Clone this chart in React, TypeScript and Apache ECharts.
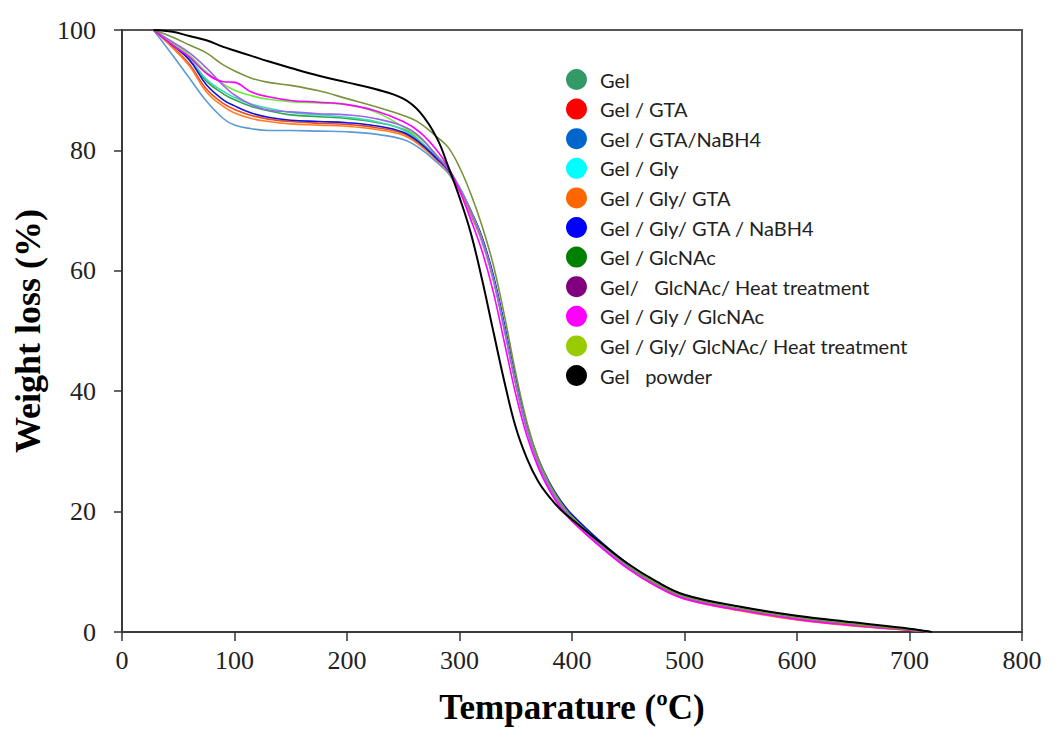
import React, { useEffect, useRef } from "react";
import * as echarts from "echarts";

const temps = [28, 45, 60, 75, 90, 100, 115, 130, 150, 175, 200, 225, 250, 265, 280, 290, 300, 310, 320, 330, 340, 350, 360, 370, 380, 390, 400, 425, 450, 475, 500, 550, 600, 650, 700, 720];

const seriesNames = [
  "Gel",
  "Gel / GTA",
  "Gel / GTA/NaBH4",
  "Gel / Gly",
  "Gel / Gly/ GTA",
  "Gel / Gly/ GTA / NaBH4",
  "Gel / GlcNAc",
  "Gel/   GlcNAc/ Heat treatment",
  "Gel / Gly / GlcNAc",
  "Gel / Gly/ GlcNAc/ Heat treatment",
  "Gel   powder",
];

const legendColors = ["#339966", "#FF0000", "#0066CC", "#00FFFF", "#FF6600", "#0000FF", "#008000", "#800080", "#FF00FF", "#99CC00", "#000000"];
const lineColors = ["#2FA84F", "#F04A1A", "#5B9BD5", "#3DDBB0", "#FF7F27", "#1010E0", "#66EE33", "#9966EE", "#FF00FF", "#77933C", "#000000"];

const gel = [100, 97.5, 95, 91.5, 89.4, 88.4, 87.3, 86.6, 85.9, 85.6, 85.3, 84.7, 83.5, 81.5, 78.7, 76.8, 73.8, 70, 65.5, 59, 50.6, 41.6, 34, 28.5, 24.5, 21.5, 19.2, 14.9, 11.2, 8.2, 6.0, 4.0, 2.5, 1.4, 0.45, 0];
const gelGTA = [100, 97.2, 94.3, 90.2, 87.8, 86.8, 85.8, 85.2, 84.8, 84.5, 84.3, 83.8, 82.8, 81, 78.5, 76.6, 73.6, 69.6, 65.2, 58.8, 50.4, 41.4, 33.7, 28.1, 24.1, 21, 18.6, 14.3, 10.6, 7.7, 5.6, 3.6, 2.1, 1.1, 0.3, 0];
const gelGTANaBH4 = [100, 95.8, 92, 88.2, 85.3, 84.2, 83.6, 83.3, 83.3, 83.2, 83.1, 82.7, 81.8, 80.3, 78, 76.2, 73.3, 69.3, 64.8, 58.5, 50, 41.2, 33.6, 28, 24, 21, 18.6, 14.4, 10.7, 7.8, 5.7, 3.7, 2.2, 1.2, 0.35, 0];
const gelGly = [100, 97.6, 95.3, 91.8, 89.8, 88.8, 87.7, 87, 86.3, 85.9, 85.5, 84.8, 83.4, 81.4, 78.6, 76.7, 73.7, 69.8, 65.3, 58.8, 50.4, 41.4, 33.8, 28.2, 24.2, 21.2, 18.9, 14.6, 10.9, 7.9, 5.8, 3.8, 2.3, 1.3, 0.4, 0];
const gelGlyGTA = [100, 97, 94, 89.7, 87.3, 86.2, 85.3, 84.8, 84.4, 84.2, 84, 83.5, 82.5, 80.8, 78.3, 76.5, 73.5, 69.5, 65, 58.7, 50.3, 41.3, 33.6, 28, 24, 20.9, 18.5, 14.2, 10.5, 7.6, 5.5, 3.5, 2.0, 1.0, 0.3, 0];
const gelGlyGTANaBH4 = [100, 97.5, 95, 90.9, 88.4, 87.4, 86.2, 85.5, 85, 84.8, 84.6, 84.1, 83, 81.2, 78.6, 76.7, 73.8, 70, 65.6, 59.3, 51, 42, 34.3, 28.8, 24.8, 21.8, 19.5, 15.1, 11.3, 8.3, 6.1, 4.1, 2.6, 1.5, 0.5, 0];
const gelGlcNAc = [100, 97.8, 95.8, 93, 91, 90, 89.1, 88.5, 88.1, 87.9, 87.6, 86.4, 83.9, 82, 79.2, 77, 73.9, 69.9, 65.3, 58.8, 50.4, 41.4, 33.8, 28.3, 24.4, 21.4, 19.1, 14.8, 11.1, 8.1, 5.9, 3.9, 2.4, 1.35, 0.4, 0];
const gelGlcNAcHeat = [100, 98, 96.2, 93.7, 90.8, 89.2, 87.6, 86.7, 86.4, 86.1, 85.9, 85.3, 84, 82.2, 79, 76.9, 73.8, 69.8, 65.2, 58.7, 50.2, 41.2, 33.6, 28, 24, 21, 18.7, 14.4, 10.7, 7.8, 5.7, 3.7, 2.2, 1.2, 0.35, 0];
const gelGlyGlcNAc = [100, 97.5, 95.5, 92.8, 91.4, 91.3, 89.7, 88.9, 88.3, 88, 87.6, 86.6, 84.8, 83, 80, 77.2, 73.3, 68.5, 63.3, 56.5, 48, 39.5, 32.5, 27.3, 23.5, 20.6, 18.4, 14.2, 10.5, 7.6, 5.5, 3.6, 2.1, 1.1, 0.3, 0];
const gelGlyGlcNAcHeat = [100, 98.8, 97.5, 96.2, 94.2, 93.2, 92, 91.3, 90.8, 89.9, 88.6, 87.3, 85.8, 84.5, 82.2, 80.5, 77.2, 72.8, 67.5, 61, 52.5, 43, 34.8, 28.8, 24.6, 21.5, 19.1, 14.7, 11, 8, 5.9, 3.9, 2.4, 1.3, 0.4, 0];
const gelPowder = [100, 99.7, 99, 98.3, 97.2, 96.6, 95.7, 94.8, 93.7, 92.4, 91.3, 90.2, 88.6, 86.3, 82, 77.3, 72.2, 66.3, 58.6, 50, 41.5, 34, 28.8, 25, 22.4, 20.3, 18.7, 14.9, 11.3, 8.4, 6.2, 4.2, 2.7, 1.6, 0.55, 0];

const weights = [gel, gelGTA, gelGTANaBH4, gelGly, gelGlyGTA, gelGlyGTANaBH4, gelGlcNAc, gelGlcNAcHeat, gelGlyGlcNAc, gelGlyGlcNAcHeat, gelPowder];

const xTicks = [0, 800, 100];
const yTicks = [0, 100, 20];

export default function App() {
  const ref = useRef<HTMLDivElement>(null);
  useEffect(() => {
    if (!ref.current) return;
    const chart = echarts.init(ref.current, undefined, { renderer: "svg" });
    const serifFont = "'Liberation Serif', 'Times New Roman', serif";
    const series = seriesNames.map((name, i) => ({
      name,
      type: "line",
      data: temps.map((t, j) => [t, weights[i][j]]),
      smooth: 0.4,
      showSymbol: false,
      symbol: "circle",
      itemStyle: { color: lineColors[i] },
      lineStyle: { color: lineColors[i], width: i === 10 ? 2 : 1.6 },
      z: i === 10 ? 3 : 2,
    }));
    chart.setOption({
      animation: false,
      backgroundColor: "#ffffff",
      grid: {
        left: 122,
        right: 35,
        top: 30,
        bottom: 97,
        outerBoundsMode: "none",
        containLabel: false,
        show: true,
        borderColor: "#555555",
        borderWidth: 2,
        backgroundColor: "transparent",
      },
      legend: {
        orient: "vertical",
        left: 561,
        top: 64,
        icon: "circle",
        itemWidth: 21,
        itemHeight: 21,
        itemGap: 8.6,
        selectedMode: false,
        textStyle: {
          fontFamily: "Lato, 'Open Sans', sans-serif",
          fontSize: 20,
          color: "#222222",
          padding: [0, 0, 0, 8],
        },
        data: seriesNames.map((name, i) => ({
          name,
          icon: "circle",
          itemStyle: { color: legendColors[i], borderWidth: 0 },
        })),
      },
      xAxis: {
        type: "value",
        min: xTicks[0],
        max: xTicks[1],
        interval: xTicks[2],
        name: "Temparature (ºC)",
        nameLocation: "middle",
        nameGap: 58,
        nameTextStyle: { fontFamily: serifFont, fontWeight: "bold", fontSize: 35, color: "#000" },
        axisLine: { show: true, lineStyle: { color: "#333333", width: 1.5 } },
        axisTick: { show: true, inside: false, length: 9, lineStyle: { color: "#333333", width: 1.5 } },
        axisLabel: { fontFamily: serifFont, fontSize: 26, color: "#222222", margin: 15 },
        splitLine: { show: false },
      },
      yAxis: {
        type: "value",
        min: yTicks[0],
        max: yTicks[1],
        interval: yTicks[2],
        name: "Weight loss (%)",
        nameLocation: "middle",
        nameGap: 72,
        nameTextStyle: { fontFamily: serifFont, fontWeight: "bold", fontSize: 36, color: "#000" },
        axisLine: { show: true, lineStyle: { color: "#333333", width: 1.5 } },
        axisTick: { show: true, inside: false, length: 8, lineStyle: { color: "#333333", width: 1.5 } },
        axisLabel: { fontFamily: serifFont, fontSize: 26, color: "#222222", margin: 26 },
        splitLine: { show: false },
      },
      series,
    });
    return () => chart.dispose();
  }, []);
  return <div ref={ref} style={{ width: 1057, height: 729, position: "absolute", left: 0, top: 0 }} />;
}
